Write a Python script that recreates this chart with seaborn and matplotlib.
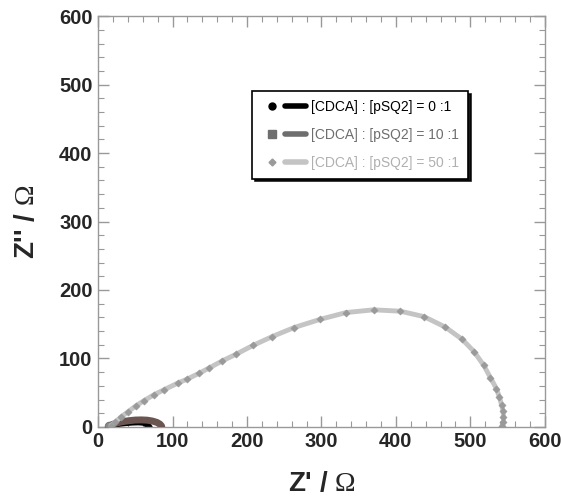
import matplotlib
matplotlib.use("Agg")
import matplotlib.pyplot as plt
import seaborn as sns
import pandas as pd
from matplotlib.lines import Line2D
from matplotlib.legend_handler import HandlerTuple

sns.set_style("ticks")
plt.rcParams['font.family'] = ['Liberation Sans', 'DejaVu Sans']
plt.rcParams['mathtext.fontset'] = 'custom'
plt.rcParams['mathtext.rm'] = 'Liberation Serif'

labels = ["[CDCA] : [pSQ2] = 0 :1", "[CDCA] : [pSQ2] = 10 :1", "[CDCA] : [pSQ2] = 50 :1"]

x0 = [15, 20, 28, 37, 46, 54, 60, 64, 66.5, 67.5, 67]
y0 = [1, 2.5, 4, 5.2, 6, 6.3, 5.8, 4.5, 2.8, 1, 0]

x10 = [15, 18, 24, 32, 41, 50, 58, 66, 73, 79, 83, 85, 85.5]
y10 = [1, 3, 5.5, 7.5, 9, 10, 10.2, 9.8, 8.5, 6.5, 4, 1.5, 0]

x50 = [17, 23, 30, 40, 51, 61, 75, 88, 107, 120, 135, 149, 166, 185, 208, 234, 263, 298,
       333, 370, 406, 438, 466, 489, 505, 518, 527, 535, 539, 542, 544, 544.5, 544.5, 543]
y50 = [2, 7, 14, 22, 31, 38, 47, 54, 64, 70, 78, 86, 96, 106, 119, 132, 145, 157,
       167, 171, 169, 161, 146, 128, 110, 90, 72, 56, 44, 32, 23, 15, 7, 1]

c0, c10, c10line, c50, c50m = "#000000", "#6e6e6e", "#6b5550", "#c4c4c4", "#9a9a9a"

fig = plt.figure(figsize=(5.61, 5.04), dpi=100)
ax = fig.add_axes([0.175, 0.153, 0.796, 0.815])

d50 = pd.DataFrame({"x": x50, "y": y50})
d10 = pd.DataFrame({"x": x10, "y": y10})
d0 = pd.DataFrame({"x": x0, "y": y0})

sns.lineplot(data=d0, x="x", y="y", sort=False, estimator=None, color=c0, lw=4, ax=ax, zorder=2)
sns.scatterplot(x=[x0[-1]], y=[y0[-1]], marker="o", s=30, color=c0, edgecolor=c0, ax=ax, zorder=2.5)
sns.lineplot(data=d10, x="x", y="y", sort=False, estimator=None, color=c10line, lw=5, ax=ax, zorder=3)
sns.scatterplot(x=[x10[0]], y=[y10[0]], marker="o", s=40, color="#888888", edgecolor="#666666", ax=ax, zorder=3.5)
sns.lineplot(data=d50, x="x", y="y", sort=False, estimator=None, color=c50, lw=3.5, ax=ax, zorder=4)
sns.scatterplot(data=d50, x="x", y="y", marker="D", s=14, color=c50m, edgecolor=c50m, ax=ax, zorder=5)

ax.set_xlim(0, 600)
ax.set_ylim(0, 600)
ax.set_xticks(range(0, 601, 100))
ax.set_yticks(range(0, 601, 100))
ax.set_xticks(range(0, 601, 20), minor=True)
ax.set_yticks(range(0, 601, 20), minor=True)
ax.tick_params(which="both", direction="in", top=True, right=True, color="#999999")
ax.tick_params(which="major", length=8, width=1, labelsize=14.5, pad=4)
ax.tick_params(which="minor", length=4, width=0.8)
for lab in ax.get_xticklabels() + ax.get_yticklabels():
    lab.set_fontweight("bold")
for sp in ax.spines.values():
    sp.set_color("#999999")
    sp.set_linewidth(1)

ax.set_xlabel("Z' / $\\mathrm{\\Omega}$", fontsize=20, fontweight="bold", labelpad=14)
ax.set_ylabel("Z'' / $\\mathrm{\\Omega}$", fontsize=20, fontweight="bold", labelpad=14)

handles = []
for mk, ms, col, lcol in [("o", 5, c0, c0), ("s", 5.5, c10, c10), ("D", 3.5, c50m, c50)]:
    m = Line2D([], [], marker=mk, ls="none", ms=ms, color=col)
    l = Line2D([], [], color=lcol, lw=4)
    handles.append((m, l))
leg = ax.legend(handles, labels, handler_map={tuple: HandlerTuple(ndivide=None, pad=0.2)},
                loc="upper left", bbox_to_anchor=(0.345, 0.818), frameon=True, fancybox=False,
                shadow={"color": "black", "alpha": 0.9}, edgecolor="black", framealpha=1,
                fontsize=10, handlelength=3.2, labelspacing=1.0, borderpad=0.65,
                handletextpad=0.4, borderaxespad=0)
leg.get_frame().set_linewidth(1.2)
for t, c in zip(leg.get_texts(), [c0, c10, "#b0b0b0"]):
    t.set_color(c)

fig.savefig("out.png", dpi=100)
